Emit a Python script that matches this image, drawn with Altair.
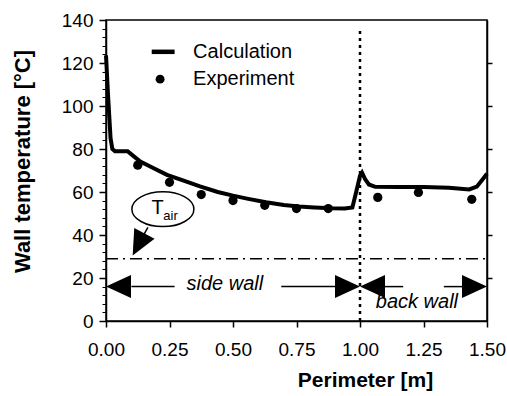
import altair as alt
import pandas as pd

# ---- data ----
calc_x = [0.0, 0.008, 0.018, 0.025, 0.035, 0.06, 0.085, 0.1, 0.135, 0.18, 0.24, 0.3,
          0.37, 0.44, 0.5, 0.56, 0.63, 0.7, 0.76, 0.82, 0.89, 0.94, 0.97, 0.985,
          1.0, 1.008, 1.02, 1.035, 1.06, 1.15, 1.25, 1.35, 1.43, 1.46, 1.48, 1.5]
calc_y = [123.5, 105, 85, 80, 79, 79, 79, 77.5, 74.2, 71.5, 68, 65.5,
          62.6, 60, 58.3, 56.8, 55.2, 54, 53.3, 52.8, 52.4, 52.3, 52.8, 60,
          67.5, 69, 66, 63.5, 62.4, 62.3, 62.3, 62, 61.2, 62.5, 65.5, 68.5]
exp_x = [0.125, 0.25, 0.375, 0.5, 0.625, 0.75, 0.875, 1.07, 1.23, 1.44]
exp_y = [72.5, 64.5, 58.8, 56.0, 53.8, 52.3, 52.3, 57.5, 59.8, 56.6]

x_ticks = [0.0, 0.25, 0.5, 0.75, 1.0, 1.25, 1.5]
y_ticks = [0, 20, 40, 60, 80, 100, 120, 140]
y_minor = list(range(0, 141, 4))
y_right = [20, 40, 60, 80, 100, 120]

t_air = 29
wall_x = 1.0

FONT = "Liberation Sans"
xs = alt.Scale(domain=[0, 1.5], nice=False, zero=False)
ys = alt.Scale(domain=[0, 140], nice=False)

xaxis = alt.Axis(values=x_ticks, format=".2f", title="Perimeter [m]", grid=False,
                 tickSize=6, tickColor="black", tickWidth=1.5, domainColor="black",
                 domainWidth=1.5, labelColor="black", labelFont=FONT, labelFontSize=19,
                 labelPadding=13, labelFlush=False, titleFont=FONT, titleFontSize=21,
                 titleFontWeight="bold", titleColor="black", titleX=259, titleY=59,
                 titleBaseline="middle", titleAlign="center")
yaxis_major = alt.Axis(values=y_ticks, title="Wall temperature [°C]", grid=False, orient="left",
                       tickSize=7, tickColor="black", tickWidth=1.5, domainColor="black",
                       domainWidth=1.5, labelColor="black", labelFont=FONT, labelFontSize=19,
                       labelPadding=6, labelFlush=False, titleFont=FONT, titleFontSize=22,
                       titleFontWeight="bold", titleColor="black", titleX=-84, titleY=141,
                       titleAngle=270, titleBaseline="middle", titleAlign="center")
yaxis_minor = alt.Axis(values=y_minor, title=None, grid=False, orient="left", labels=False,
                       tickSize=4, tickColor="black", tickWidth=1, domain=False)
yaxis_right = alt.Axis(values=y_right, title=None, grid=False, orient="right", labels=False,
                       tickSize=5, tickColor="black", tickWidth=1.5, domainColor="black",
                       domainWidth=1.5)

X = lambda f="x": alt.X(f + ":Q", scale=xs, axis=xaxis)

calc = pd.DataFrame({"x": calc_x, "y": calc_y})
exp = pd.DataFrame({"x": exp_x, "y": exp_y})

line = alt.Chart(calc).mark_line(color="black", strokeWidth=4, interpolate="linear").encode(
    x=X(), y=alt.Y("y:Q", scale=ys, axis=yaxis_major))
pts = alt.Chart(exp).mark_circle(color="black", size=85, opacity=1).encode(
    x=X(), y=alt.Y("y:Q", scale=ys, axis=yaxis_minor))

tair = alt.Chart(pd.DataFrame({"x": [0.0], "x2": [1.5], "y": [t_air]})).mark_rule(
    color="black", strokeWidth=1.5, strokeDash=[12, 5, 2, 5]).encode(
    x=X(), x2="x2:Q", y=alt.Y("y:Q", scale=ys, axis=yaxis_right))

vline = alt.Chart(pd.DataFrame({"x": [wall_x], "y": [0], "y2": [135]})).mark_rule(
    color="black", strokeWidth=2.5, strokeDash=[3, 4]).encode(
    x=X(), y=alt.Y("y:Q", scale=ys, axis=None), y2="y2:Q")

# arrow shafts
seg = pd.DataFrame({
    "x": [0.10, 0.69, 1.05, 1.33, 0.165, 0.18],
    "x2": [0.27, 0.92, 1.17, 1.44, 0.11, 0.27],
    "y": [16, 16, 16, 16, 43.6, 125.2],
    "y2": [16, 16, 16, 16, 32, 125.2],
    "w": [1.5, 1.5, 1.5, 1.5, 1.5, 4.5],
})
shafts = alt.Chart(seg).mark_rule(color="black").encode(
    x=X(), x2="x2:Q", y=alt.Y("y:Q", scale=ys, axis=None), y2="y2:Q",
    strokeWidth=alt.StrokeWidth("w:Q", scale=None))

RIGHT = "M0,0L-2,-0.92L-2,0.92Z"
LEFT = "M0,0L2,-0.92L2,0.92Z"
heads = pd.DataFrame({
    "x": [0.0, 1.0, 1.0, 1.5, 0.105],
    "y": [16, 16, 16, 16, 30.5],
    "shape": [LEFT, RIGHT, LEFT, RIGHT, RIGHT],
    "angle": [0, 0, 0, 0, 118],
})
arrowheads = alt.Chart(heads).mark_point(filled=True, color="black", size=625, opacity=1,
                                         strokeWidth=0).encode(
    x=X(), y=alt.Y("y:Q", scale=ys, axis=None),
    shape=alt.Shape("shape:N", scale=None), angle=alt.Angle("angle:Q", scale=None))

ellipse = alt.Chart(pd.DataFrame({"x": [0.224], "y": [52]})).mark_point(
    shape="M-1,0A1,0.56,0,1,0,1,0A1,0.56,0,1,0,-1,0Z", size=3844, filled=False,
    color="black", strokeWidth=1.5, opacity=1).encode(
    x=X(), y=alt.Y("y:Q", scale=ys, axis=None))

labels = pd.DataFrame({
    "x": [0.468, 1.224],
    "y": [17.2, 8.8],
    "t": ["side wall", "back wall"],
})
wall_txt = alt.Chart(labels).mark_text(font=FONT, fontSize=20, fontStyle="italic",
                                       color="black", baseline="middle", align="center").encode(
    x=X(), y=alt.Y("y:Q", scale=ys, axis=None), text="t:N")

t_big = alt.Chart(pd.DataFrame({"x": [0.203], "y": [52.5], "t": ["T"]})).mark_text(
    font=FONT, fontSize=20, color="black", baseline="middle", align="center").encode(
    x=X(), y=alt.Y("y:Q", scale=ys, axis=None), text="t:N")
t_sub = alt.Chart(pd.DataFrame({"x": [0.254], "y": [49.0], "t": ["air"]})).mark_text(
    font=FONT, fontSize=13, color="black", baseline="middle", align="center").encode(
    x=X(), y=alt.Y("y:Q", scale=ys, axis=None), text="t:N")

# legend
leg_pt = alt.Chart(pd.DataFrame({"x": [0.213], "y": [112.5]})).mark_circle(
    color="black", size=80, opacity=1).encode(
    x=X(), y=alt.Y("y:Q", scale=ys, axis=None))
leg_txt = alt.Chart(pd.DataFrame({"x": [0.343, 0.343], "y": [125.2, 112.5],
                                  "t": ["Calculation", "Experiment"]})).mark_text(
    font=FONT, fontSize=20, color="black", baseline="middle", align="left").encode(
    x=X(), y=alt.Y("y:Q", scale=ys, axis=None), text="t:N")

chart = alt.layer(
    line, pts, tair, vline, shafts, arrowheads, ellipse, wall_txt, t_big, t_sub, leg_pt, leg_txt
).resolve_axis(y="independent").properties(
    width=381, height=301,
    autosize=alt.AutoSizeParams(type="none"),
    padding={"left": 106, "top": 20, "right": 20, "bottom": 75},
    background="white",
).configure_view(stroke="black", strokeWidth=1.5)

chart.save("out.html", embed_options={"renderer": "svg", "actions": False})
